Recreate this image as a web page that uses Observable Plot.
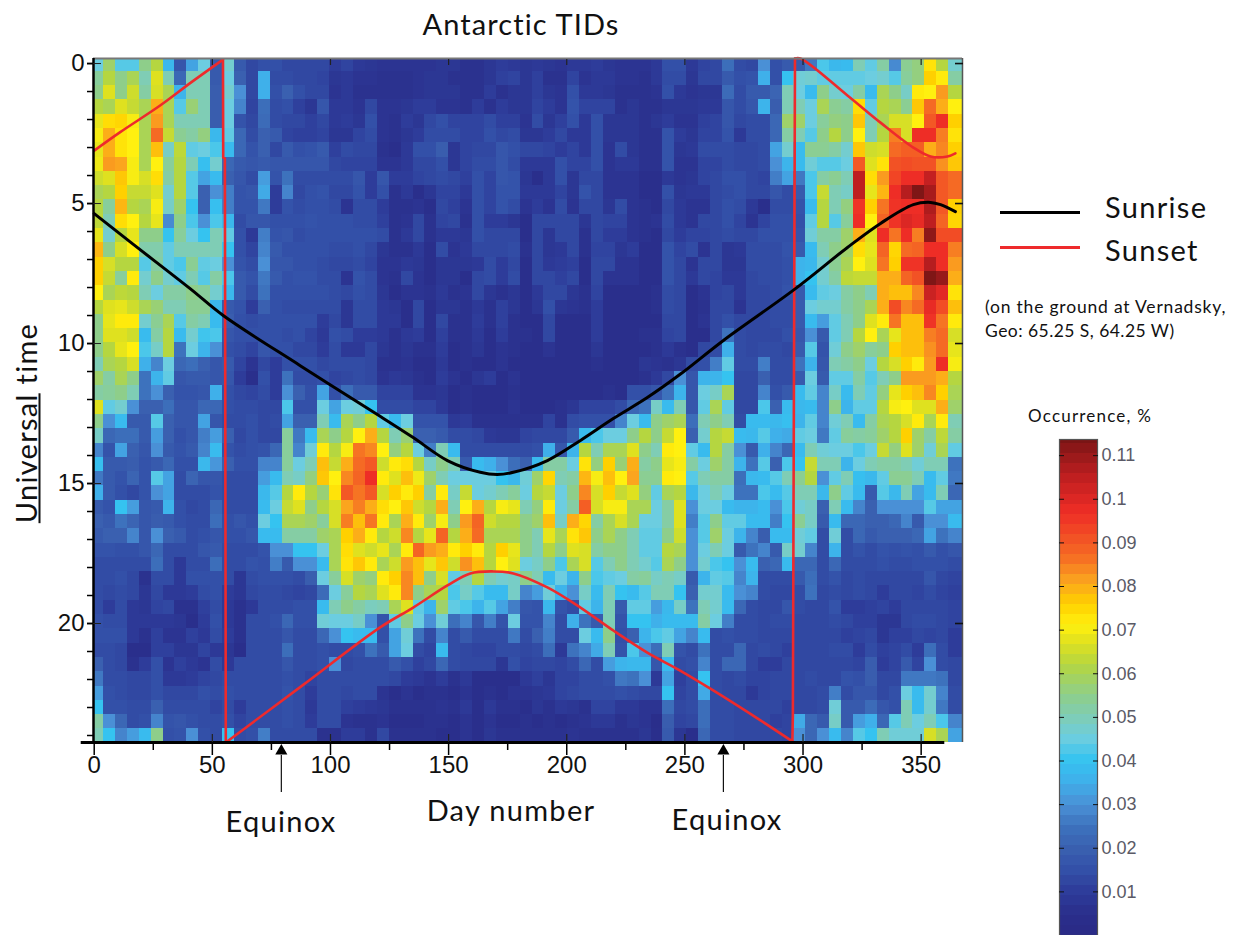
<!DOCTYPE html>
<html><head><meta charset="utf-8">
<script src="https://cdn.jsdelivr.net/npm/d3@7"></script>
<script src="https://cdn.jsdelivr.net/npm/@observablehq/plot@0.6"></script>
<style>
html,body{margin:0;padding:0;background:#fff}
#page{position:relative;width:1241px;height:935px;overflow:hidden;background:#fff;color:#111}
#page svg{position:absolute;background:transparent;overflow:visible}
#page svg g[aria-label="rect"]{filter:blur(0.5px)}
.t{position:absolute;white-space:nowrap;font-family:Lato,"Open Sans",sans-serif;line-height:1}
.l{position:absolute;height:3px}
</style></head><body><div id="page"></div>
<script>
// Occurrence in thousandths of a percent; one row per half-hour bin, 73 columns of about 5 days
const r00=[45,58,43,43,55,62,37,17,33,45,18,47,18,13,15,15,13,13,13,13,10,12,9,8, 7,7,7,7,7,8,8,6,6,8,10,9,8,9,8,7,9,9,10,8,7,7,7,9,15, 15,9,12,13,24,14,13,30,15,18,18,26,42,37,38,50,44,52,29,54,56,73,62,47];
const r01=[53,62,55,60,50,67,50,22,50,50,18,45,20,13,35,14,14,13,13,12,8,9,7,7, 6,6,6,7,8,8,6,6,6,8,11,12,8,11,6,6,12,7,9,9,7,7,6,9,14, 14,8,13,13,18,15,16,35,15,40,46,47,44,44,44,44,45,47,43,53,56,76,72,52];
const r02=[55,67,55,65,52,66,60,36,50,50,19,47,30,13,35,15,20,15,13,13,7,9,6,6, 6,6,6,7,8,8,8,6,6,10,6,8,8,11,8,7,15,9,9,8,6,6,6,7,15, 9,7,8,8,23,14,18,18,21,50,45,38,55,47,45,52,38,60,55,48,72,71,82,62];
const r03=[62,60,67,64,60,80,60,43,57,50,19,45,28,12,24,14,15,11,8,17,9,9,7,13, 7,7,8,10,10,7,7,6,10,6,10,8,8,12,10,7,16,12,12,12,6,8,6,6,8, 8,8,9,9,17,14,17,36,19,50,50,45,60,54,52,74,44,62,60,54,77,87,80,71];
const r04=[68,74,75,70,60,82,60,50,50,50,19,45,16,13,23,14,13,13,11,13,9,10,8,15, 7,6,10,8,13,15,12,12,12,14,11,11,7,14,8,11,15,9,15,8,8,8,6,8,10, 7,7,11,12,17,13,14,14,22,58,58,45,53,56,55,77,50,60,66,66,71,90,97,76];
const r05=[70,80,73,71,60,87,64,54,52,56,37,44,22,14,20,18,12,11,11,12,8,8,12,14, 7,6,8,10,14,14,14,12,12,15,13,14,8,8,10,13,9,9,15,8,8,8,6,6,16, 10,8,12,12,16,9,14,14,22,52,50,43,55,62,55,71,50,62,85,66,97,97,85,73];
const r06=[68,80,73,71,60,78,48,63,44,45,42,38,22,16,20,13,18,15,16,18,11,14,13,13, 6,5,9,15,15,19,8,12,13,13,17,15,13,13,12,10,12,9,15,7,14,8,6,6,16, 8,9,14,14,14,13,13,14,33,47,38,54,54,52,47,77,65,66,87,89,89,80,84,76];
const r07=[69,82,81,70,60,71,53,62,50,39,47,22,18,17,18,17,17,17,17,17,13,12,12,12, 7,7,9,13,13,15,8,12,14,14,17,14,9,9,9,15,12,12,15,7,9,9,6,6,16, 7,7,12,12,14,13,13,14,30,36,38,46,43,43,45,90,67,73,91,92,91,91,83,77];
const r08=[65,67,77,70,66,74,52,62,43,33,38,20,17,14,32,16,25,14,14,14,14,14,17,10, 17,10,10,12,13,14,13,11,15,12,17,16,8,5,9,15,8,13,13,7,7,7,5,5,9, 7,8,12,13,15,15,13,12,27,33,26,42,52,54,50,105,74,82,93,97,97,104,90,87];
const r09=[60,62,76,64,64,67,47,62,43,20,30,27,16,17,34,10,28,13,15,16,13,13,16,10, 15,6,9,5,8,12,12,9,15,12,16,16,9,9,9,12,8,16,13,7,7,7,5,5,15, 8,9,9,13,14,15,13,13,17,14,18,42,64,50,48,105,68,79,97,106,113,108,90,87];
const r10=[62,53,79,62,60,70,48,58,40,20,39,27,16,16,26,10,16,14,15,15,14,7,14,14, 10,6,6,7,5,13,11,7,15,12,16,14,7,10,7,14,7,13,13,8,14,7,6,5,13, 9,7,7,13,15,14,9,5,14,14,16,38,62,50,56,96,76,86,96,97,97,107,90,76];
const r11=[63,50,74,71,62,68,29,55,42,30,42,37,14,17,17,15,15,15,16,15,15,15,14,14, 11,6,7,13,6,12,13,6,15,10,10,8,5,13,13,13,13,8,13,12,12,7,6,7,14, 9,7,13,13,15,12,7,12,15,15,15,44,62,43,53,97,71,88,96,100,98,105,88,75];
const r12=[68,47,62,68,55,55,40,53,45,40,50,44,15,9,27,16,17,14,15,15,15,15,15,15, 14,6,9,13,6,9,9,8,15,13,13,13,5,13,8,13,13,6,13,10,10,7,6,5,13, 10,12,12,13,14,13,13,15,15,15,16,46,52,52,58,80,67,97,86,97,85,111,92,92];
const r13=[79,55,66,71,51,51,44,50,50,50,50,40,15,12,28,18,15,15,15,15,14,14,15,13, 8,6,6,9,5,14,7,9,13,13,13,14,6,13,8,9,13,6,12,12,8,10,5,5,16, 12,14,7,13,8,9,14,14,14,16,18,38,50,55,58,74,68,88,75,87,88,97,97,85];
const r14=[76,66,62,62,43,52,44,42,54,44,45,30,16,14,30,17,17,15,15,14,13,13,14,12, 7,7,9,8,5,8,8,8,9,14,10,13,5,13,9,10,11,5,13,13,7,7,5,5,16, 13,7,13,13,8,8,14,14,14,15,36,37,47,54,60,71,67,86,76,96,96,106,97,82];
const r15=[76,64,53,72,47,55,47,44,50,43,52,42,18,16,26,18,15,16,16,14,14,7,16,14, 7,6,13,7,5,8,8,5,13,14,10,14,5,13,13,11,13,5,13,7,7,7,5,5,16, 13,9,13,12,9,9,13,14,14,15,36,40,47,52,63,64,64,80,80,88,91,113,110,80];
const r16=[71,60,63,62,50,45,52,52,55,53,47,37,18,14,25,15,15,15,15,15,14,13,15,14, 8,5,7,7,6,9,6,7,13,8,6,8,5,9,13,13,8,6,12,5,5,5,5,6,14, 13,5,7,12,13,9,13,13,14,16,18,38,44,45,52,55,50,80,78,78,84,103,99,73];
const r17=[62,67,68,65,60,57,50,50,54,54,37,18,16,10,20,15,14,14,14,14,14,8,14,14, 9,8,5,13,5,8,8,6,9,6,11,8,5,8,15,8,7,6,10,5,5,5,5,6,14, 13,5,6,13,13,7,13,13,14,14,18,45,47,47,52,55,60,80,92,84,87,98,92,78];
const r18=[55,68,72,72,47,54,60,43,52,50,38,19,15,14,15,15,15,15,15,10,13,8,14,14, 9,9,5,13,5,13,6,6,10,6,11,6,5,5,13,5,5,5,10,5,5,5,5,5,13, 13,5,7,13,15,13,13,13,14,14,18,38,32,44,50,55,67,72,86,78,78,96,86,72];
const r19=[55,67,67,65,38,52,62,38,47,41,42,17,15,15,15,15,14,15,12,9,15,14,10,10, 9,6,9,10,5,11,6,6,9,5,10,6,6,5,13,5,5,5,10,5,5,5,6,6,12, 13,5,5,13,25,14,13,13,13,15,17,30,18,44,50,62,71,60,68,78,78,85,87,66];
const r20=[55,62,68,71,42,48,62,25,45,36,30,15,14,12,17,15,15,13,13,10,14,9,9,13, 8,6,8,6,6,10,5,6,8,5,7,6,5,5,7,5,5,5,8,5,5,5,5,6,9, 6,5,13,14,35,14,13,14,14,13,18,43,16,46,55,58,53,55,76,78,78,83,87,68];
const r21=[50,60,62,66,35,28,45,22,24,20,17,18,12,7,13,10,15,15,15,13,14,14,14,13, 6,6,7,5,5,9,5,6,5,5,7,5,5,5,5,5,5,5,6,5,5,5,8,7,6, 8,14,15,27,44,14,14,27,14,14,25,36,17,50,52,55,45,62,66,76,72,82,97,70];
const r22=[58,52,60,55,25,36,44,17,18,18,17,17,10,5,15,10,25,14,14,15,12,13,14,13, 7,9,8,6,5,10,7,5,8,10,5,7,5,5,5,5,5,5,5,5,5,5,6,9,13, 30,17,36,36,40,13,13,20,14,14,18,45,18,44,44,52,43,50,55,82,82,82,80,62];
const r23=[52,53,55,50,25,30,20,16,16,17,35,15,13,12,14,10,30,20,15,33,15,24,18,18, 12,12,12,7,7,8,5,6,5,5,5,6,5,5,5,5,5,5,5,6,5,15,15,17,25, 36,17,45,48,60,13,13,28,15,18,38,44,28,48,38,50,44,56,68,76,78,84,76,60];
const r24=[67,44,47,30,20,20,24,17,17,22,22,15,14,14,13,13,42,15,15,45,33,45,46,40, 14,14,14,12,12,9,5,6,5,5,5,7,5,5,5,6,8,12,12,12,14,22,25,48,38, 50,17,44,60,44,13,13,42,20,38,37,38,28,55,36,44,44,62,70,71,67,67,80,58];
const r25=[55,30,38,18,18,43,20,17,17,33,17,14,14,15,13,14,33,20,20,50,38,60,55,62, 44,38,45,16,16,16,9,10,6,6,6,6,6,6,12,6,14,15,15,15,28,45,38,55,58, 60,24,50,55,50,14,38,38,37,39,36,44,28,46,50,38,52,60,62,66,72,60,72,50];
const r26=[48,22,24,24,18,32,20,15,17,27,32,20,13,15,13,13,53,26,38,60,55,62,71,80, 62,50,57,20,20,18,14,14,13,9,8,8,12,13,13,13,18,38,42,45,45,55,62,55,64, 71,20,47,62,64,38,37,43,35,34,44,45,26,44,53,52,53,58,62,76,58,52,63,52];
const r27=[28,16,33,20,17,30,18,16,18,28,38,16,14,15,16,22,53,28,46,72,62,70,86,84, 71,56,62,45,27,50,38,14,14,14,14,14,14,15,35,17,36,62,50,60,60,67,55,50,72, 71,44,38,62,52,30,18,35,28,22,38,50,46,45,45,42,45,64,56,67,58,46,60,44];
const r28=[39,18,18,19,16,18,22,15,15,37,31,20,15,15,28,28,53,45,50,78,64,80,87,90, 65,72,74,62,48,55,50,18,38,35,30,24,20,38,52,52,45,73,56,76,57,80,52,55,68, 70,52,45,58,52,36,25,43,20,42,40,64,50,50,36,45,50,52,52,50,46,50,50,25];
const r29=[26,18,16,21,16,43,33,14,21,17,17,14,14,14,32,38,50,48,56,77,71,84,88,97, 72,67,78,69,58,50,45,45,45,45,40,37,46,58,75,50,52,79,70,78,71,81,54,54,72, 71,43,50,52,52,24,37,38,43,50,54,62,30,44,50,39,37,44,54,54,50,38,44,26];
const r30=[35,18,15,13,16,30,33,14,14,14,16,14,14,14,37,43,62,72,62,57,73,90,86,90, 66,76,72,76,52,72,48,64,45,47,50,53,45,62,64,45,55,84,66,76,64,67,56,44,60, 62,37,45,50,45,25,25,42,38,43,50,50,37,55,44,38,18,43,37,50,33,38,50,22];
const r31=[18,16,40,32,17,18,36,15,13,14,22,14,14,14,38,45,64,67,55,62,66,81,85,80, 74,71,77,65,62,80,50,71,80,62,70,68,50,56,72,45,52,89,66,70,70,60,60,45,52, 67,30,45,45,38,36,36,38,30,42,46,48,20,50,38,28,20,30,30,30,30,43,33,33];
const r32=[20,18,25,21,17,19,18,15,14,14,24,15,17,15,45,40,60,60,58,53,66,85,78,86, 72,60,80,72,58,70,55,82,88,65,62,62,55,58,78,48,80,75,52,60,66,60,45,45,52, 67,27,43,55,44,44,38,38,27,40,54,48,18,38,22,22,20,20,22,28,18,30,30,38];
const r33=[18,20,20,28,17,30,20,18,14,15,17,15,15,17,38,38,52,52,52,58,60,76,80,72, 62,65,84,62,68,88,62,80,87,60,60,60,55,50,68,60,73,77,55,60,55,50,44,44,55, 65,30,43,58,45,36,28,19,38,38,46,44,14,46,14,22,18,20,20,20,22,33,25,28];
const r34=[16,16,15,15,17,22,14,14,14,17,18,14,14,14,16,30,30,40,40,45,60,74,67,65, 68,60,72,88,82,80,72,76,72,62,76,68,55,50,62,55,67,66,52,55,55,50,44,44,62, 60,30,45,50,45,18,25,28,18,48,47,28,14,36,14,16,14,16,15,16,15,18,15,17];
const r35=[14,14,14,14,14,24,14,9,14,14,24,14,14,16,15,27,18,30,30,38,60,73,77,72, 60,65,82,78,68,77,65,83,78,62,71,67,45,48,55,42,60,66,43,50,55,50,47,43,60, 55,30,47,42,40,30,38,20,22,38,22,22,14,22,14,14,14,15,14,14,15,15,15,14];
const r36=[14,14,15,13,6,14,14,9,15,15,15,14,8,14,15,15,15,14,19,45,53,66,58,56, 72,76,84,78,55,66,44,50,62,50,47,48,55,50,38,45,36,55,42,44,45,52,53,48,50, 48,18,36,44,43,28,36,14,14,14,18,24,14,16,13,14,13,13,13,13,13,17,13,12];
const r37=[14,13,14,13,8,13,9,9,10,14,15,10,8,13,14,14,13,12,13,23,45,53,62,60, 67,72,84,55,60,62,42,48,43,38,38,48,28,32,46,36,30,48,38,50,40,38,43,50,50, 40,20,47,47,38,30,28,14,13,13,14,25,13,14,13,14,13,10,13,13,12,14,12,11];
const r38=[14,10,14,9,8,12,13,6,6,11,14,9,6,9,14,14,14,15,15,38,50,55,52,49, 50,60,67,44,36,58,44,42,36,43,33,27,17,16,37,16,14,44,36,50,18,44,44,32,37, 48,25,50,47,38,22,14,13,13,17,14,13,13,16,10,10,11,12,10,13,13,13,13,12];
const r39=[15,14,14,9,9,9,9,8,5,10,15,9,6,14,14,15,22,15,15,46,45,45,48,30, 16,44,55,45,30,46,24,28,17,27,16,45,16,16,28,14,35,25,18,50,16,40,40,35,38, 38,38,52,45,27,14,14,13,14,14,13,13,13,14,13,11,11,8,8,13,14,14,13,12];
const r40=[15,15,15,9,6,11,7,7,11,9,14,10,6,14,14,14,17,14,14,22,30,40,38,38, 15,33,46,25,14,28,14,18,14,14,14,26,14,20,27,14,14,45,38,55,15,20,36,42,44, 33,28,38,14,15,14,14,13,13,13,13,13,13,13,11,12,13,8,11,11,13,12,13,10];
const r41=[14,14,13,5,5,11,11,8,8,12,9,8,5,14,14,14,24,14,14,15,14,14,15,25, 18,33,45,14,12,38,14,13,12,12,14,14,13,14,24,9,25,28,34,50,16,42,30,24,50, 16,14,25,14,14,22,13,14,13,11,13,13,13,14,14,10,14,11,12,14,10,24,14,10];
const r42=[20,14,13,6,10,15,7,11,9,7,14,9,14,14,14,14,17,14,14,15,30,13,14,14, 14,18,15,11,13,22,14,13,13,13,8,15,12,13,13,12,14,22,14,32,36,37,37,17,38, 14,15,28,14,22,22,13,10,10,13,13,13,13,13,13,12,19,10,12,18,12,30,14,13];
const r43=[26,14,14,13,13,15,9,9,10,12,13,14,14,14,14,14,15,14,12,14,14,14,14,14, 14,13,10,9,7,10,6,9,5,5,5,5,9,11,8,12,12,14,14,15,26,25,30,9,33, 11,14,40,14,13,14,12,12,13,13,13,14,13,13,16,15,19,13,13,26,26,26,25,13];
const r44=[32,15,14,13,13,15,13,13,13,15,14,15,14,14,14,14,16,14,10,14,14,13,14,14, 7,5,7,5,6,6,5,7,5,6,5,7,7,8,9,12,13,14,14,14,15,14,13,13,40, 12,14,34,14,13,13,9,12,13,13,13,13,14,27,14,17,17,13,15,45,38,47,28,14];
const r45=[40,15,15,14,14,20,14,14,14,14,12,14,10,14,14,14,15,14,9,14,14,11,10,9, 8,6,6,6,6,7,6,9,5,9,6,6,5,8,6,9,8,6,12,12,9,9,7,7,24, 13,14,24,14,14,13,13,13,13,11,13,13,14,46,18,18,23,17,15,50,38,47,26,14];
const r46=[52,30,22,14,15,28,16,17,15,14,14,15,12,14,14,14,15,14,10,14,14,7,6,6, 7,5,5,5,6,6,5,7,5,7,5,5,6,5,6,5,6,7,9,9,6,8,7,4,19, 12,13,24,14,14,13,13,13,11,12,34,22,18,48,18,32,35,22,43,50,45,50,42,28];
const r47=[50,40,28,32,38,55,15,16,30,15,14,40,14,15,27,14,14,14,14,6,6,10,10,6, 13,6,6,6,6,5,5,7,5,8,6,6,6,6,6,6,7,6,6,6,6,6,8,5,18, 8,5,22,14,14,13,13,13,13,12,30,22,30,38,28,43,40,50,46,46,46,66,60,33];
const occurrenceRows=[r00,r01,r02,r03,r04,r05,r06,r07,r08,r09,r10,r11,r12,r13,r14,r15,r16,r17,r18,r19,r20,r21,r22,r23,r24,r25,r26,r27,r28,r29,r30,r31,r32,r33,r34,r35,r36,r37,r38,r39,r40,r41,r42,r43,r44,r45,r46,r47];

const sunriseDay=[0,15.2,40.6,54.6,87.2,121,135,149.5,163.4,170.6,177.4,191.8,205.8,219.7,234.1,248,266.3,296.8,318.8,332.8,346.7,354,358.2,364.5];
const sunriseHour=[5.36,6.37,8.04,9,10.79,12.6,13.36,14.18,14.6,14.68,14.6,14.18,13.46,12.68,11.93,11.1,9.89,8.04,6.57,5.71,5.04,4.96,5.04,5.29];
const sunsetDay=[0,11,27.9,40.6,54.5, 54.5,54.6,55.3,55.7, 55.7,88.3,121,135,149.5,159.2,168.9,177.4,191.8,205.8,219.7,234.1,248,262,282,295.5, 295.5,295.7,296.6, 296.6,298.9,318.8,332.8,346.7,354,361.1,364.5];
const sunsetHour=[3.11,2.45,1.5,0.7,-0.14, -0.14,3.36,3.39,24.25, 24.25,22.2,20.14,19.43,18.64,18.21,18.14,18.21,18.71,19.43,20.25,21.04,21.68,22.39,23.46,24.21, 24.21,23.29,-0.18, -0.18,-0.18,1.14,2.11,3,3.32,3.32,3.21];
const sunsetPiece=[0,0,0,0,0, 1,1,1,1, 2,2,2,2,2,2,2,2,2,2,2,2,2,2,2,2, 3,3,3, 4,4,4,4,4,4,4,4];
const equinoxDays=[79.2,266.3];
const dayTicks=[0,50,100,150,200,250,300,350];
const dayMinorTicks=[25,75,125,175,225,275,325];
const hourTicks=[0,5,10,15,20];
const hourMinorTicks=[0,1,2,3,4,5,6,7,8,9,10,11,12,13,14,15,16,17,18,19,20,21,22,23,24];
const barTicks=[0.01,0.02,0.03,0.04,0.05,0.06,0.07,0.08,0.09,0.1,0.11];
const colorStops=[0,.005,.01,.015,.02,.025,.03,.035,.04,.045,.05,.055,.062,.067,.071,.076,.081,.087,.097,.105,.1137];
const colorHex=["#2a2a86","#2a2f8c","#2e3c9a","#3350a8","#3a60b0","#3d72bd","#4a90d6","#3fb0ea","#35c3f0","#6ccde0","#7fcdb5","#8ece8a","#b5d640","#dfe11f","#fff00f","#ffd000","#fba51e","#f56a24","#ee2d26","#be1e20","#7a1515"];

const colorOpts={type:"linear",domain:colorStops,range:colorHex,interpolate:"rgb",clamp:true};
const dayMin=-0.3,dayMax=367.5,hourMin=-0.18,hourMax=24.25;
const firstDayEdge=3.94,binDays=5.038,firstHourEdge=0.275,binHours=0.5107;
const cells=[];
occurrenceRows.forEach((row,j)=>row.forEach((v,i)=>cells.push({
  d1:i===0?dayMin:firstDayEdge+binDays*(i-1),
  d2:i===72?dayMax:firstDayEdge+binDays*i,
  h1:j===0?hourMin:firstHourEdge+binHours*(j-1),
  h2:j===47?hourMax:firstHourEdge+binHours*j,
  v:v/1000})));
const sunrise=sunriseDay.map((d,i)=>({day:d,hour:sunriseHour[i]}));
const sunset=sunsetDay.map((d,i)=>({day:d,hour:sunsetHour[i],piece:sunsetPiece[i]}));
const sunsetCurved=sunset.filter(d=>d.piece%2===0);
const sunsetWalls=sunset.filter(d=>d.piece%2===1);
const ink="#111",noText=()=>"";

const main=Plot.plot({
  width:1241,height:935,marginLeft:93,marginRight:279,marginTop:58,marginBottom:193,
  style:{background:"transparent",fontFamily:"'Liberation Sans',Arial,sans-serif",color:ink},
  x:{domain:[dayMin,dayMax],axis:null},
  y:{domain:[hourMin,hourMax],reverse:true,axis:null},
  color:colorOpts,
  marks:[
    Plot.rect(cells,{x1:"d1",x2:"d2",y1:"h1",y2:"h2",fill:"v",shapeRendering:"crispEdges"}),
    Plot.line(sunsetWalls,{x:"day",y:"hour",z:"piece",stroke:"#ee2a2c",strokeWidth:2.6}),
    Plot.line(sunsetCurved,{x:"day",y:"hour",z:"piece",curve:"catmull-rom",stroke:"#ee2a2c",strokeWidth:2.6}),
    Plot.line(sunrise,{x:"day",y:"hour",curve:"catmull-rom",stroke:"#000",strokeWidth:3}),
    Plot.ruleY([hourMin],{stroke:"#777",strokeWidth:2}),
    Plot.ruleX([dayMax],{stroke:"#555",strokeWidth:1.5}),
    Plot.ruleX([dayMin],{stroke:"#000",strokeWidth:2.5}),
    Plot.ruleY([hourMax],{x1:-5.5,x2:360,stroke:"#000",strokeWidth:3}),
    Plot.axisX({anchor:"bottom",ticks:dayTicks,tickSize:13,tickPadding:0,fontSize:24,tickFormat:d=>String(d),label:null,stroke:"#000",strokeWidth:1.5}),
    Plot.axisX({anchor:"bottom",ticks:dayMinorTicks,tickSize:8,tickFormat:noText,label:null,stroke:"#000",strokeWidth:1.5}),
    Plot.axisX({anchor:"top",ticks:dayTicks.slice(1),tickSize:-6,tickFormat:noText,label:null,stroke:"#222",strokeWidth:1.2}),
    Plot.axisX({anchor:"bottom",ticks:dayTicks.slice(1),tickSize:-8,tickFormat:noText,label:null,stroke:"#222",strokeWidth:1.2}),
    Plot.axisY({anchor:"left",ticks:hourMinorTicks,tickSize:6,tickFormat:noText,label:null,stroke:"#000",strokeWidth:1.5}),
    Plot.axisY({anchor:"left",ticks:hourTicks,tickSize:6,tickPadding:3,fontSize:24,tickFormat:d=>String(d),label:null,stroke:"#000",strokeWidth:1.5}),
    Plot.axisY({anchor:"left",ticks:hourTicks,tickSize:-8,tickFormat:noText,label:null,stroke:"#222",strokeWidth:1}),
    Plot.axisY({anchor:"right",ticks:hourTicks,tickSize:-8,tickFormat:noText,label:null,stroke:"#111",strokeWidth:1.6}),
    Plot.ruleX(equinoxDays,{y1:24.71,y2:26.04,stroke:"#111",strokeWidth:1.2}),
    Plot.dot(equinoxDays,{x:d=>d,y:()=>24.55,symbol:"triangle",r:4.5,fill:"#000",stroke:"none"})
  ]
});

const rampLevels=d3.range(0,0.1137,0.0023);
const bar=Plot.plot({
  width:110,height:515,marginLeft:19,marginRight:53,marginTop:19,marginBottom:0,
  style:{background:"transparent",fontFamily:"'Liberation Sans',Arial,sans-serif",color:"#5a5a66"},
  x:{domain:[0,1],axis:null},
  y:{domain:[0,0.1137],axis:null},
  color:colorOpts,
  marks:[
    Plot.rect(rampLevels,{x1:0,x2:1,y1:d=>d,y2:d=>Math.min(d+0.0023,0.1137),fill:d=>d+0.00115,shapeRendering:"crispEdges"}),
    Plot.frame({stroke:"#555",strokeWidth:1.2}),
    Plot.axisY({anchor:"right",ticks:barTicks,tickSize:-5,tickPadding:9,fontSize:18,tickFormat:d=>String(d),label:null,stroke:"#111"}),
    Plot.axisY({anchor:"left",ticks:barTicks,tickSize:-5,tickFormat:noText,label:null,stroke:"#111"})
  ]
});
bar.style.left="1040px";bar.style.top="420px";
main.style.left="0";main.style.top="0";

const page=document.getElementById("page");
page.appendChild(main);page.appendChild(bar);
function txt(s,x,y,size,anchor,spacing,extra){
  const e=document.createElement("div");e.className="t";e.innerHTML=s;
  e.style.left=x+"px";e.style.top=y+"px";e.style.fontSize=size+"px";e.style.letterSpacing=spacing+"px";
  e.style.transform=anchor==="m"?"translate(-50%,-50%)":"translate(0,-50%)";
  if(extra)Object.assign(e.style,extra);page.appendChild(e);
}
txt("Antarctic TIDs",521,23,29,"m",1.1);
txt("Day number",511,809,29,"m",1.3);
txt("Equinox",281,820,29,"m",1.3);
txt("Equinox",727,818,29,"m",1.3);
txt("Sunrise",1105,206,29,"l",1.3);
txt("Sunset",1105,249,29,"l",1.3);
txt("(on the ground at Vernadsky,",985,307,17.5,"l",0.8);
txt("Geo: 65.25 S, 64.25 W)",985,331,17.5,"l",0.45);
txt("Occurrence, %",1090,415,17,"m",1.2);
txt("<u>Universal</u> time",25,423,29,"m",1.3,{transform:"translate(-50%,-50%) rotate(-90deg)"});
[["#000",210.5],["#ee2a2c",245.5]].forEach(([c,y])=>{
  const l=document.createElement("div");l.className="l";l.style.background=c;
  l.style.left="1000px";l.style.width="80px";l.style.top=y+"px";page.appendChild(l);
});
</script></body></html>
